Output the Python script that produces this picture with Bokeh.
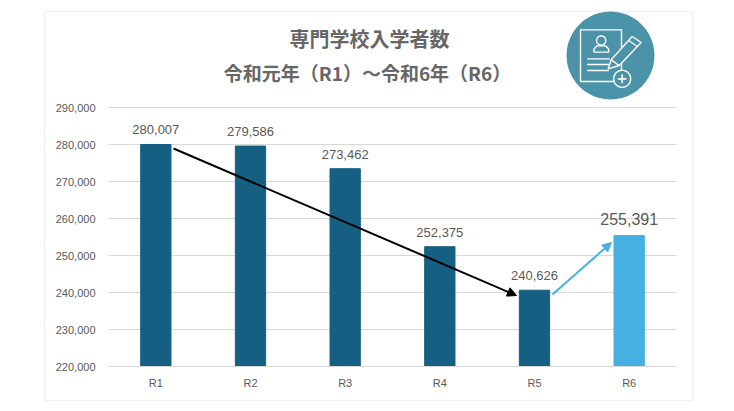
import math
from bokeh.core.properties import value
from bokeh.plotting import figure
from bokeh.embed import file_html
from bokeh.resources import INLINE
from bokeh.models import (ColumnDataSource, Label, Arrow, NormalHead, PolyAnnotation, BoxAnnotation,
                          NumeralTickFormatter, FixedTicker, Range1d)

categories = ["R1", "R2", "R3", "R4", "R5", "R6"]
values = [280007, 279586, 273462, 252375, 240626, 255391]
bar_colors = ["#156082"] * 5 + ["#45B0E1"]
label_sizes = ["13px"] * 5 + ["16px"]
label_offsets = [-10] * 5 + [-11]
y_ticks = [220000, 230000, 240000, 250000, 260000, 270000, 280000, 290000]
title_lines = ["専門学校入学者数", "令和元年（R1）～令和6年（R6）"]

# The frame fills the canvas, so the range is wider than the plotting area of the chart.
W, H = 718, 403
LEFT, RIGHT, TOP, BOTTOM = 108, 676, 107, 366
Y0, Y1 = y_ticks[0], y_ticks[-1]
n = len(categories)
ux = (RIGHT - LEFT) / n
uy = (Y1 - Y0) / (BOTTOM - TOP)
p = figure(width=W, height=H,
           x_range=Range1d(-LEFT / ux, (W - LEFT) / ux),
           y_range=Range1d(Y0 - (H - BOTTOM) * uy, Y1 + TOP * uy),
           output_backend="svg", toolbar_location=None,
           min_border_left=0, min_border_right=0, min_border_top=0, min_border_bottom=0)
p.outline_line_color = None
p.background_fill_color = "white"
p.border_fill_color = "white"
p.grid.visible = False

xpos = [i + 0.5 for i in range(n)]
p.xaxis.ticker = FixedTicker(ticks=xpos)
p.xaxis.major_label_overrides = dict(zip(xpos, categories))
p.xaxis.fixed_location = Y0
p.xaxis.bounds = (0, n)
p.yaxis.ticker = FixedTicker(ticks=y_ticks)
p.yaxis.formatter = NumeralTickFormatter(format="0,0")
p.yaxis.fixed_location = 0
p.yaxis.bounds = (Y0, Y1)
for ax in (p.xaxis[0], p.yaxis[0]):
    ax.major_tick_line_color = None
    ax.minor_tick_line_color = None
    ax.major_label_text_color = "#595959"
    ax.major_label_text_font = "Liberation Sans"
    ax.major_label_text_font_size = "11px"
p.yaxis.axis_line_color = None
p.xaxis.axis_line_color = "#d9d9d9"
p.xaxis.major_label_standoff = 4
p.yaxis.major_label_standoff = 7

p.segment(x0=[0] * len(y_ticks), x1=[n] * len(y_ticks), y0=y_ticks, y1=y_ticks,
          line_color="#d9d9d9", line_width=1)

src = ColumnDataSource(dict(x=xpos, top=values, color=bar_colors, dy=label_offsets,
                            label=[f"{v:,}" for v in values], size=label_sizes))
p.vbar(x="x", top="top", bottom=Y0, width=0.32, color="color", source=src)
p.text(x="x", y="top", text="label", source=src, text_align="center", text_baseline="bottom",
       y_offset="dy", text_color="#595959", text_font=value("Liberation Sans"), text_font_size="size")


def seg(a, b, color="white", lw=1.4, cap="butt"):
    p.add_layout(Arrow(x_start=a[0], y_start=a[1], x_end=b[0], y_end=b[1],
                       start_units="canvas", end_units="canvas", line_color=color,
                       line_width=lw, line_cap=cap, end=None))


def poly(pts, fill, line="white", lw=1.4):
    p.add_layout(PolyAnnotation(xs=[a for a, b in pts], ys=[b for a, b in pts],
                                xs_units="canvas", ys_units="canvas", fill_color=fill, fill_alpha=1,
                                line_color=line, line_width=lw, line_alpha=1))


p.add_layout(BoxAnnotation(left=44, right=692, top=11, bottom=400,
                           left_units="canvas", right_units="canvas", top_units="canvas", bottom_units="canvas",
                           fill_color=None, line_color="#cccccc", line_width=1, level="underlay"))

for txt, cx, cy, fs in zip(title_lines, (369, 367), (38, 72), ("20px", "19px")):
    p.add_layout(Label(x=cx, y=cy, x_units="canvas", y_units="canvas", text=txt,
                       text_align="center", text_baseline="middle", text_color="#666666",
                       text_font="Noto Sans CJK JP", text_font_style="bold", text_font_size=fs))

p.add_layout(Arrow(x_start=173, y_start=148, x_end=516, y_end=295,
                   start_units="canvas", end_units="canvas", line_color="black", line_width=2,
                   end=NormalHead(size=9, fill_color="black", line_color="black")))
p.add_layout(Arrow(x_start=552, y_start=294, x_end=611, y_end=242,
                   start_units="canvas", end_units="canvas", line_color="#45B0E1", line_width=2,
                   end=NormalHead(size=9, fill_color="#45B0E1", line_color="#45B0E1")))

ICON = "#4b93a9"


def z(x, y):
    return (540 + x / 3, y / 3)


def ring(cx, cy, r, k=48):
    return [(cx + r * math.cos(2 * math.pi * i / k), cy + r * math.sin(2 * math.pi * i / k)) for i in range(k)]


poly(ring(610, 55, 44), ICON, line=None)
poly([z(120, 88), z(243, 88), z(243, 243), z(120, 243)], ICON)
poly(ring(*z(182, 120), 4.6), ICON)
poly([z(160, 155), z(161, 145), z(170, 136), z(195, 136), z(204, 145), z(205, 155)], ICON)
for y0, x1 in ((175, 208), (192, 205), (210, 205)):
    seg(z(140, y0), z(x1, y0))
poly([z(203, 205), z(212, 178), z(275, 108), z(302, 126), z(236, 195)], ICON)
seg(z(212, 178), z(236, 195))
seg(z(265, 120), z(290, 138))
poly(ring(*z(245, 235), 8.5), ICON)
seg(z(232, 235), z(258, 235), lw=1.6)
seg(z(245, 222), z(245, 248), lw=1.6)

open("out.html", "w").write(file_html(p, INLINE))
